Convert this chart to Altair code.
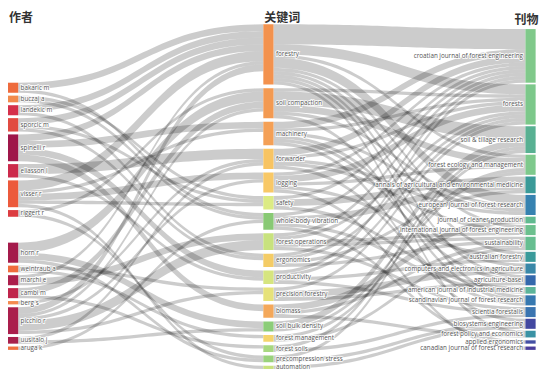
import altair as alt
import pandas as pd
import numpy as np

# ---------------- data ----------------
col_titles = ["作者", "关键词", "刊物"]

authors = ["bakaric m", "buczaj a", "landekic m", "sporcic m", "spinelli r", "eliasson l",
           "visser r", "riggert r", "horn r", "weintraub a", "marchi e", "cambi m",
           "berg s", "picchio r", "uusitalo j", "aruga k"]
author_colors = ["#ee6b3d", "#f28a4c", "#d5304b", "#e14b41", "#9f164a", "#cc2a4b",
                 "#ec5a3c", "#dc3c41", "#a41a4b", "#f06c3d", "#ab1e4c", "#bf244b",
                 "#f48a50", "#aa1e4c", "#a8204c", "#f07040"]

keywords = ["forestry", "soil compaction", "machinery", "forwarder", "logging", "safety",
            "whole-body vibration", "forest operations", "ergonomics", "productivity",
            "precision forestry", "biomass", "soil bulk density", "forest management",
            "forest soils", "precompression stress", "automation"]
keyword_colors = ["#f3924e", "#f39a52", "#f4a056", "#f8c462", "#f8c866", "#dceb84",
                  "#88c974", "#c8e27e", "#f4cc66", "#d6e57f", "#e6e27a", "#f4a85a",
                  "#8ccd78", "#f4d46c", "#a8d880", "#9ad27c", "#c8e27e"]

journals = ["croatian journal of forest engineering", "forests", "soil & tillage research",
            "forest ecology and management", "annals of agricultural and environmental medicine",
            "european journal of forest research", "journal of cleaner production",
            "international journal of forest engineering", "sustainability", "australian forestry",
            "computers and electronics in agriculture", "agriculture-basel",
            "american journal of industrial medicine", "scandinavian journal of forest research",
            "scientia forestalis", "biosystems engineering", "forest policy and economics",
            "applied ergonomics", "canadian journal of forest research"]
journal_colors = ["#80c98a", "#7cc88a", "#58b092", "#7ec98c", "#3a9a98", "#3682b0",
                  "#60ba90", "#6cc08e", "#66be90", "#3a9a9a", "#3a88a8", "#3468ac",
                  "#5cb49a", "#3678b0", "#3a74b0", "#4248a0", "#3a92a4", "#4450a4", "#4a3e9c"]

# author -> keyword links
ak_source = ["bakaric m", "bakaric m", "buczaj a", "buczaj a", "landekic m", "landekic m",
             "sporcic m", "sporcic m", "sporcic m",
             "spinelli r", "spinelli r", "spinelli r", "spinelli r",
             "eliasson l", "eliasson l",
             "visser r", "visser r", "visser r", "visser r", "visser r",
             "riggert r", "riggert r", "horn r", "horn r", "horn r",
             "weintraub a", "weintraub a", "marchi e", "marchi e", "cambi m", "cambi m",
             "berg s", "picchio r", "picchio r", "picchio r", "picchio r", "picchio r",
             "uusitalo j", "uusitalo j", "aruga k"]
ak_target = ["forestry", "whole-body vibration", "whole-body vibration", "safety", "forestry", "ergonomics",
             "forestry", "safety", "ergonomics",
             "forestry", "machinery", "productivity", "biomass",
             "forwarder", "productivity",
             "forestry", "logging", "safety", "machinery", "automation",
             "soil compaction", "precompression stress", "soil compaction", "soil bulk density", "precompression stress",
             "forest management", "precision forestry", "forest operations", "forestry", "soil compaction", "forest soils",
             "forwarder", "forestry", "forest operations", "soil compaction", "precision forestry", "logging",
             "forwarder", "soil bulk density", "whole-body vibration"]
ak_value = [2, 1, 1, 1, 2, 1,
            2, 1, 1,
            2, 2, 2, 2,
            3, 1,
            3, 2, 1, 1, 1,
            1, 1, 3, 2, 1,
            1, 1, 2, 1, 2, 1,
            1, 2, 3, 1, 1, 1,
            1, 1, 1]

# keyword -> journal links
kj_source = (["forestry"] * 9 + ["soil compaction"] * 5 + ["machinery"] * 6 + ["forwarder"] * 5
             + ["logging"] * 5 + ["safety"] * 3 + ["whole-body vibration"] * 4
             + ["forest operations"] * 5 + ["ergonomics"] * 4 + ["productivity"] * 4
             + ["precision forestry"] * 3 + ["biomass"] * 3 + ["soil bulk density"] * 2
             + ["forest management"] * 2 + ["forest soils"] * 2 + ["precompression stress"] * 2
             + ["automation"])
kj_target = ["croatian journal of forest engineering", "forests", "forest ecology and management",
             "european journal of forest research", "international journal of forest engineering",
             "australian forestry", "agriculture-basel", "scandinavian journal of forest research",
             "forest policy and economics",
             "forests", "soil & tillage research", "forest ecology and management",
             "european journal of forest research", "scandinavian journal of forest research",
             "croatian journal of forest engineering", "forests", "european journal of forest research",
             "computers and electronics in agriculture", "agriculture-basel", "biosystems engineering",
             "croatian journal of forest engineering", "forests", "european journal of forest research",
             "international journal of forest engineering", "scandinavian journal of forest research",
             "croatian journal of forest engineering", "forests", "forest ecology and management",
             "australian forestry", "canadian journal of forest research",
             "croatian journal of forest engineering", "annals of agricultural and environmental medicine",
             "american journal of industrial medicine",
             "croatian journal of forest engineering", "annals of agricultural and environmental medicine",
             "american journal of industrial medicine", "applied ergonomics",
             "croatian journal of forest engineering", "forests", "international journal of forest engineering",
             "sustainability", "scientia forestalis",
             "croatian journal of forest engineering", "forests",
             "annals of agricultural and environmental medicine", "sustainability",
             "croatian journal of forest engineering", "forests", "australian forestry", "scientia forestalis",
             "forests", "computers and electronics in agriculture", "agriculture-basel",
             "journal of cleaner production", "sustainability", "forest policy and economics",
             "soil & tillage research", "forest ecology and management",
             "forest ecology and management", "sustainability",
             "soil & tillage research", "scientia forestalis",
             "soil & tillage research", "biosystems engineering",
             "biosystems engineering"]
kj_value = [6, 3, 1, 3, 1, 1, 1, 1, 1,
            1, 4, 2, 1, 1,
            2, 1, 1, 1, 1, 1,
            2, 1, 1, 1, 1,
            1, 2, 1, 1, 1,
            1, 2, 1,
            1, 2, 1, 1,
            1, 1, 1, 1, 1,
            1, 1, 1, 1,
            1, 1, 1, 1,
            1, 2, 1,
            2, 1, 1,
            2, 1,
            1, 1,
            1, 1,
            1, 1,
            1]

# ---------------- layout (computed from the data) ----------------
REF_W, REF_H = 548, 378
W, H = 532, 362
KY = 3.5          # px per link unit
NODE_W = 10.5
col_x = [0, 263, 533]

def sums(keys, src, val):
    d = {k: 0 for k in keys}
    for s, v in zip(src, val):
        d[s] += v
    return d

a_out = sums(authors, ak_source, ak_value)
k_in = sums(keywords, ak_target, ak_value)
k_out = sums(keywords, kj_source, kj_value)
j_in = sums(journals, kj_target, kj_value)
k_val = {k: max(k_in[k], k_out[k]) for k in keywords}

def stack(names, vals, top, gap):
    pos, y = {}, top
    for n in names:
        h = vals[n] * KY
        pos[n] = (y, y + h)
        y += h + gap
    return pos

def spread(names, vals, top, bottom):
    tot = sum(vals[n] for n in names) * KY
    gap = (bottom - top - tot) / (len(names) - 1)
    return stack(names, vals, top, gap)

def block_height(names, vals, gap):
    return sum(vals[n] for n in names) * KY + gap * (len(names) - 1)

pos = {}
# left column: top block + bottom block
g_left = 3.0
upper, lower = authors[:8], authors[8:]
pos.update(stack(upper, a_out, 78, g_left))
pos.update(stack(lower, a_out, 357 - block_height(lower, a_out, g_left), g_left))
# middle column
pos.update(spread(keywords, k_val, 17, 377))
# right column: spread block + small bottom block
g_rb = 3.0
j_top, j_bot = journals[:16], journals[16:]
jb_top = 357 - block_height(j_bot, j_in, g_rb)
pos.update(spread(j_top, j_in, 22, jb_top - 2.0))
pos.update(stack(j_bot, j_in, jb_top, g_rb))

col_of = {}
for n in authors: col_of[n] = 0
for n in keywords: col_of[n] = 1
for n in journals: col_of[n] = 2
order = {n: i for i, n in enumerate(authors + keywords + journals)}

node_rows = []
for names, cols in ((authors, author_colors), (keywords, keyword_colors), (journals, journal_colors)):
    for n, c in zip(names, cols):
        y0, y1 = pos[n]
        x0 = col_x[col_of[n]]
        node_rows.append(dict(name=n, x0=x0, x1=x0 + NODE_W, y0=y0, y1=y1, yc=(y0 + y1) / 2,
                              color=c, col=col_of[n]))
nodes = pd.DataFrame(node_rows)

links = [(s, t, v) for s, t, v in zip(ak_source, ak_target, ak_value)] + \
        [(s, t, v) for s, t, v in zip(kj_source, kj_target, kj_value)]

src_off = {n: 0.0 for n in order}
tgt_off = {n: 0.0 for n in order}
sy, ty = {}, {}
for i, (s, t, v) in sorted(enumerate(links), key=lambda e: (order[e[1][0]], order[e[1][1]])):
    sy[i] = pos[s][0] + src_off[s]
    src_off[s] += v * KY
for i, (s, t, v) in sorted(enumerate(links), key=lambda e: (order[e[1][1]], order[e[1][0]])):
    ty[i] = pos[t][0] + tgt_off[t]
    tgt_off[t] += v * KY

ts = np.linspace(0, 1, 40)
link_rows = []
for i, (s, t, v) in enumerate(links):
    w = v * KY
    x0 = col_x[col_of[s]] + NODE_W
    x1 = col_x[col_of[t]]
    xm = (x0 + x1) / 2
    ys, yt = sy[i] + w / 2, ty[i] + w / 2
    for tt in ts:
        a = (1 - tt) ** 3; b = 3 * (1 - tt) ** 2 * tt; c = 3 * (1 - tt) * tt ** 2; d = tt ** 3
        x = a * x0 + (b + c) * xm + d * x1
        y = (a + b) * ys + (c + d) * yt
        link_rows.append(dict(lid=i, x=x, ya=y - w / 2, yb=y + w / 2))
link_df = pd.DataFrame(link_rows)

xs = alt.Scale(domain=[0, REF_W], nice=False, zero=False)
ys_ = alt.Scale(domain=[0, REF_H], nice=False, zero=False, reverse=True)

link_layer = alt.Chart(link_df).mark_area(fill="black", fillOpacity=0.2, strokeWidth=0,
                                          interpolate="linear").encode(
    x=alt.X("x:Q", scale=xs, axis=None),
    y=alt.Y("ya:Q", scale=ys_, axis=None, stack=None),
    y2="yb:Q",
    detail="lid:N",
)

node_layer = alt.Chart(nodes).mark_rect(strokeWidth=0).encode(
    x=alt.X("x0:Q", scale=xs, axis=None), x2="x1:Q",
    y=alt.Y("y0:Q", scale=ys_, axis=None), y2="y1:Q",
    color=alt.Color("color:N", scale=None),
)

lab = nodes.copy()
lab["lx"] = np.where(lab["col"] < 2, lab["x1"] + 2.5, lab["x0"] - 2.5)
lab_l = lab[lab["col"] < 2]
lab_r = lab[lab["col"] == 2]
FONT = "Open Sans"
FS = 6.3

def text_layers(df, align):
    base = alt.Chart(df).encode(
        x=alt.X("lx:Q", scale=xs, axis=None),
        y=alt.Y("yc:Q", scale=ys_, axis=None),
        text="name:N",
    )
    halo = base.mark_text(align=align, baseline="middle", font=FONT, fontSize=FS,
                          stroke="white", strokeWidth=1.8, strokeOpacity=0.85, fill="white")
    txt = base.mark_text(align=align, baseline="middle", font=FONT, fontSize=FS, fill="#555")
    return [halo, txt]

titles = pd.DataFrame(dict(t=col_titles,
                           x=[col_x[0] + 1, col_x[1] + 1, col_x[2] + NODE_W + 3],
                           y=[10, 10, 13],
                           al=["left", "left", "right"]))
title_layers = []
for al in ["left", "right"]:
    title_layers.append(alt.Chart(titles[titles["al"] == al]).mark_text(
        align=al, baseline="middle", font="Noto Sans CJK SC", fontSize=12,
        fontWeight="bold", fill="#333").encode(
        x=alt.X("x:Q", scale=xs, axis=None),
        y=alt.Y("y:Q", scale=ys_, axis=None),
        text="t:N"))

chart = alt.layer(link_layer, node_layer, *text_layers(lab_l, "left"),
                  *text_layers(lab_r, "right"), *title_layers).properties(
    width=W, height=H, padding=0, autosize="none"
).configure_view(stroke=None)

chart.save("out.html", embed_options={"renderer": "svg", "actions": False})
